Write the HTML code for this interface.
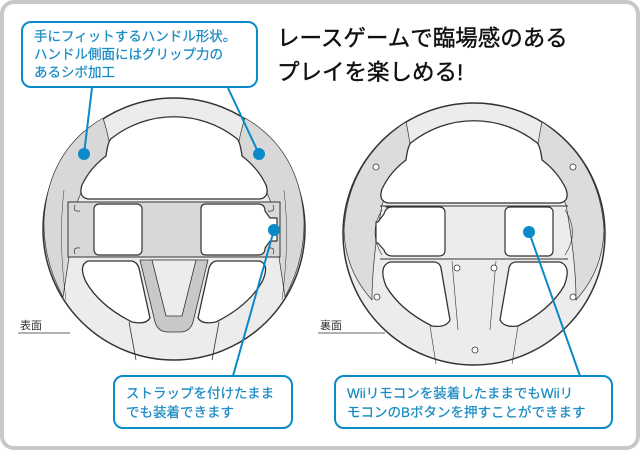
<!DOCTYPE html>
<html><head><meta charset="utf-8"><style>
html,body{margin:0;padding:0;background:#fff;}
body{width:640px;height:450px;overflow:hidden;position:relative;font-family:"Liberation Sans","Noto Sans CJK JP",sans-serif;}
</style></head><body>
<svg width="640" height="450" viewBox="0 0 640 450" xmlns="http://www.w3.org/2000/svg" style="position:absolute;left:0;top:0">
<rect x="2" y="2" width="636" height="446" rx="12" fill="#fff" stroke="#c8c8c8" stroke-width="4"/>

<!-- LEFT WHEEL -->
<g stroke="#333" stroke-linejoin="round">
<circle cx="174" cy="229" r="131" fill="#ececec" stroke-width="1.5"/>
<path d="M103,118 Q110,140 110,152 Q90,170 78,200 Q70,250 63,297 Q43,260 44,220 Q48,150 103,118 Z" fill="#d8d8d8" stroke-width="0.7"/>
<path d="M245,118 Q238,140 238,152 Q258,170 270,200 Q278,250 285,297 Q305,260 304,220 Q300,150 245,118 Z" fill="#d8d8d8" stroke-width="0.7"/>
<path d="M64,190 Q58,240 66,300 M284,190 Q290,240 282,300" fill="none" stroke-width="0.5"/>
<path d="M88,199 L260,199 Q270,197 266,185 Q258,168 242,156 Q240,140 236,138 A101 101 0 0 0 112,138 Q108,140 106,156 Q90,168 82,185 Q78,197 88,199 Z" fill="#fff" stroke-width="1.3"/>
<rect x="68" y="202" width="212" height="55" fill="#d8d8d8" stroke-width="1"/>
<path d="M75,205 Q72,212 80,211 M75,254 Q72,247 80,248 M273,205 Q276,212 268,211 M273,254 Q276,247 268,248" fill="none" stroke-width="0.7"/>
<rect x="94" y="204" width="48" height="51" rx="5" fill="#fff" stroke-width="1.2"/>
<path d="M206,204 L258,204 Q265,204 265,211 L270,218 L277,218 L277,241 L270,241 L265,248 Q265,255 258,255 L206,255 Q201,255 201,250 L201,209 Q201,204 206,204 Z" fill="#fff" stroke-width="1.2"/>
<path d="M88,261 L132,261 Q137,262 139,268 L150,318 Q146,325 132,322 Q100,306 86,282 Q78,265 88,261 Z" fill="#fff" stroke-width="1.3"/>
<path d="M260,261 L216,261 Q211,262 209,268 L198,318 Q202,325 216,322 Q248,306 262,282 Q270,265 260,261 Z" fill="#fff" stroke-width="1.3"/>
<path d="M140,260 L208,260 L193,322 Q190,332 180,332 L168,332 Q158,332 155,322 Z" fill="#c8c8c8" stroke-width="0.8"/>
<path d="M152,260 L196,260 L182,316 L166,316 Z" fill="#ececec" stroke-width="0.8"/>
<path d="M129,322 L136,360 M219,322 L212,360" fill="none" stroke-width="0.8"/>
</g>
<text x="20" y="329" font-size="11" fill="#333">表面</text>
<line x1="18" y1="333" x2="70" y2="333" stroke="#333" stroke-width="0.8"/>

<!-- RIGHT WHEEL -->
<g stroke="#333" stroke-linejoin="round">
<circle cx="474" cy="234" r="131" fill="#ececec" stroke-width="1.5"/>
<path d="M406,122 Q411,145 411,160 Q392,175 382,205 Q372,260 372,300 Q345,270 344,230 Q348,160 406,122 Z" fill="#dcdcdc" stroke-width="0.7"/>
<path d="M542,122 Q537,145 537,160 Q556,175 566,205 Q576,260 576,300 Q603,270 604,230 Q600,160 542,122 Z" fill="#dcdcdc" stroke-width="0.7"/>
<path d="M388,203 L560,203 Q570,201 566,189 Q558,172 542,160 Q540,144 536,142 A101 101 0 0 0 412,142 Q408,144 406,160 Q390,172 382,189 Q378,201 388,203 Z" fill="#fff" stroke-width="1.3"/>
<path d="M380,206 L568,206 M380,259 L568,259" stroke-width="1" fill="none"/>
<path d="M382,210 Q368,232 382,255 M565,210 Q580,232 565,255" fill="none" stroke-width="0.6"/>
<path d="M386,207 L439,207 Q445,207 445,213 L445,250 Q445,256 439,256 L392,256 Q386,256 384,250 L378,243 L376,243 L376,222 L378,222 L384,214 Q386,207 392,207 Z" fill="#fff" stroke-width="1.2"/>
<rect x="505" y="207" width="48" height="49" rx="5" fill="#fff" stroke-width="1.2"/>
<path d="M390,262 L435,262 Q440,263 441,268 L450,320 Q446,328 432,326 Q400,310 386,286 Q378,266 390,262 Z" fill="#fff" stroke-width="1.3"/>
<path d="M560,262 L515,262 Q510,263 509,268 L500,320 Q504,328 518,326 Q550,310 564,286 Q572,266 560,262 Z" fill="#fff" stroke-width="1.3"/>
<path d="M452,261 L458,330 M496,261 L490,330 M430,326 L436,364 M518,326 L512,364" fill="none" stroke-width="0.6"/>
<g fill="#fff" stroke-width="0.8">
<circle cx="376" cy="167" r="3"/><circle cx="573" cy="167" r="3"/>
<circle cx="377" cy="297" r="3"/><circle cx="573" cy="297" r="3"/>
<circle cx="457" cy="268" r="3"/><circle cx="494" cy="268" r="3"/>
<circle cx="475" cy="350" r="3"/>
</g>
</g>
<text x="320" y="329" font-size="11" fill="#333">裏面</text>
<line x1="318" y1="333" x2="385" y2="333" stroke="#333" stroke-width="0.8"/>

<g stroke="#0a8ac8" stroke-width="2" fill="none">
<rect x="22" y="22" width="235" height="65" rx="9" fill="#fff"/>
<line x1="92" y1="88" x2="84" y2="154"/>
<line x1="228" y1="88" x2="259" y2="154"/>
<rect x="114" y="376" width="178" height="52" rx="9" fill="#fff"/>
<line x1="233" y1="376" x2="274" y2="230"/>
<rect x="335" y="376" width="277" height="52" rx="9" fill="#fff"/>
<line x1="580" y1="376" x2="529" y2="232"/>
</g>
<g fill="#0a8ac8">
<circle cx="84" cy="154" r="6"/><circle cx="259" cy="154" r="6"/>
<circle cx="274" cy="230" r="6"/><circle cx="529" cy="232" r="6"/>
</g>
<g font-size="13.5" fill="#1a8bc4" stroke="#1a8bc4" stroke-width="0.25">
<text x="34" y="41">手にフィットするハンドル形状。</text>
<text x="34" y="59">ハンドル側面にはグリップ力の</text>
<text x="34" y="77">あるシボ加工</text>
<text x="126" y="398">ストラップを付けたまま</text>
<text x="126" y="417">でも装着できます</text>
<text x="347" y="398">Wiiリモコンを装着したままでもWiiリ</text>
<text x="347" y="417">モコンのBボタンを押すことができます</text>
</g>
<g font-size="22.5" fill="#111" stroke="#111" stroke-width="0.4">
<text x="277" y="46">レースゲームで臨場感のある</text>
<text x="277" y="80">プレイを楽しめる!</text>
</g>
</svg>
</body></html>
